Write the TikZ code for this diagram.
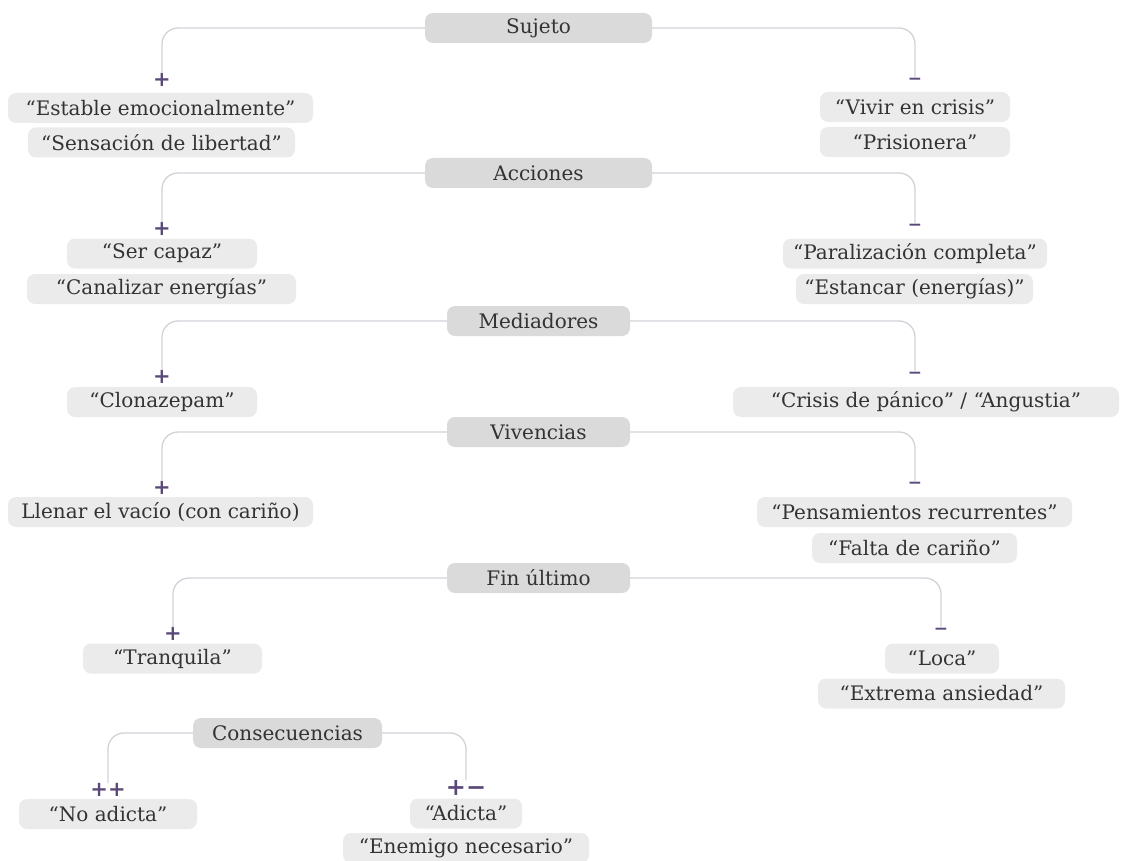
\documentclass[tikz,border=0pt]{standalone}
\usepackage{fontspec}
\setmainfont{DejaVu Serif}
\usepackage{tikz}
\usepackage{xcolor}
\usetikzlibrary{positioning}

\definecolor{headfill}{HTML}{DADADA}
\definecolor{itemfill}{HTML}{EBEBEB}
\definecolor{txt}{HTML}{333333}
\definecolor{branchgray}{HTML}{D2D2D8}
\definecolor{signpurple}{HTML}{5A4878}

\begin{document}
\begin{tikzpicture}[
  x=1pt, y=-1pt,
  every node/.style={font=\fontsize{20}{23}\selectfont, text=txt},
  head/.style={fill=headfill, rounded corners=8pt, minimum height=30pt, inner sep=0pt},
  item/.style={fill=itemfill, rounded corners=8pt, minimum height=30pt, inner sep=0pt},
  sign/.style={font=\fontsize{21}{24}\selectfont\bfseries, text=signpurple, inner sep=0pt},
  negsign/.style={sign, font=\fontsize{17}{20}\selectfont\bfseries},
  branch/.style={draw=branchgray, line width=1.3pt, rounded corners=16pt}
]
\useasboundingbox (0,0) rectangle (1121,861);

% Sujeto
\node[head, minimum width=227pt] (suj) at (538.5,28) {Sujeto};
\node[sign] (sujpos) at (162,80) {+};
\node[negsign] (sujneg) at (915,81) {−};
\node[item, minimum width=305pt] (estable) at (160.5,108) {“Estable emocionalmente”};
\node[item, minimum width=267pt] (libertad) at (161.5,142.5) {“Sensación de libertad”};
\node[item, minimum width=190pt] (crisis) at (915,107) {“Vivir en crisis”};
\node[item, minimum width=190pt] (prisionera) at (915,142) {“Prisionera”};
\draw[branch] (suj.west) -| (sujpos.north);
\draw[branch] (suj.east) -| (sujneg.north);

% Acciones
\node[head, minimum width=227pt] (acc) at (538.5,173) {Acciones};
\node[sign] (accpos) at (162,229) {+};
\node[negsign] (accneg) at (915,227) {−};
\node[item, minimum width=190pt] (capaz) at (162,253.5) {“Ser capaz”};
\node[item, minimum width=269pt] (canalizar) at (161.5,289) {“Canalizar energías”};
\node[item, minimum width=264pt] (paralizacion) at (915,253.5) {“Paralización completa”};
\node[item, minimum width=237pt] (estancar) at (914.5,289) {“Estancar (energías)”};
\draw[branch] (acc.west) -| (accpos.north);
\draw[branch] (acc.east) -| (accneg.north);

% Mediadores
\node[head, minimum width=183pt] (med) at (538.5,321) {Mediadores};
\node[sign] (medpos) at (162,377) {+};
\node[negsign] (medneg) at (915,375) {−};
\node[item, minimum width=190pt] (clonazepam) at (162,402) {“Clonazepam”};
\node[item, minimum width=386pt] (panico) at (926,402) {“Crisis de pánico” / “Angustia”};
\draw[branch] (med.west) -| (medpos.north);
\draw[branch] (med.east) -| (medneg.north);

% Vivencias
\node[head, minimum width=183pt] (viv) at (538.5,432) {Vivencias};
\node[sign] (vivpos) at (162,488) {+};
\node[negsign] (vivneg) at (915,485) {−};
\node[item, minimum width=305pt] (llenar) at (160.5,512) {Llenar el vacío (con cariño)};
\node[item, minimum width=315pt] (pensamientos) at (914.5,512) {“Pensamientos recurrentes”};
\node[item, minimum width=205pt] (falta) at (914.5,548) {“Falta de cariño”};
\draw[branch] (viv.west) -| (vivpos.north);
\draw[branch] (viv.east) -| (vivneg.north);

% Fin ultimo
\node[head, minimum width=183pt] (fin) at (538.5,578) {Fin último};
\node[sign] (finpos) at (173,634) {+};
\node[negsign] (finneg) at (941,631) {−};
\node[item, minimum width=179pt] (tranquila) at (172.5,658.5) {“Tranquila”};
\node[item, minimum width=114pt] (loca) at (942,658.5) {“Loca”};
\node[item, minimum width=247pt] (ansiedad) at (941.5,693.5) {“Extrema ansiedad”};
\draw[branch] (fin.west) -| (finpos.north);
\draw[branch] (fin.east) -| (finneg.north);

% Consecuencias
\node[head, minimum width=189pt] (con) at (287.5,733) {Consecuencias};
\node[sign] (conpp) at (108,790) {++};
\node[sign, font=\fontsize{24}{26}\selectfont\bfseries] (conpm) at (466,788) {+−};
\node[item, minimum width=178pt] (noadicta) at (108,814) {“No adicta”};
\node[item, minimum width=112pt] (adicta) at (466,813.5) {“Adicta”};
\node[item, minimum width=246pt] (enemigo) at (466,848) {“Enemigo necesario”};
\draw[branch] (con.west) -| (conpp.north);
\draw[branch] (con.east) -| (conpm.north);
\end{tikzpicture}
\end{document}
